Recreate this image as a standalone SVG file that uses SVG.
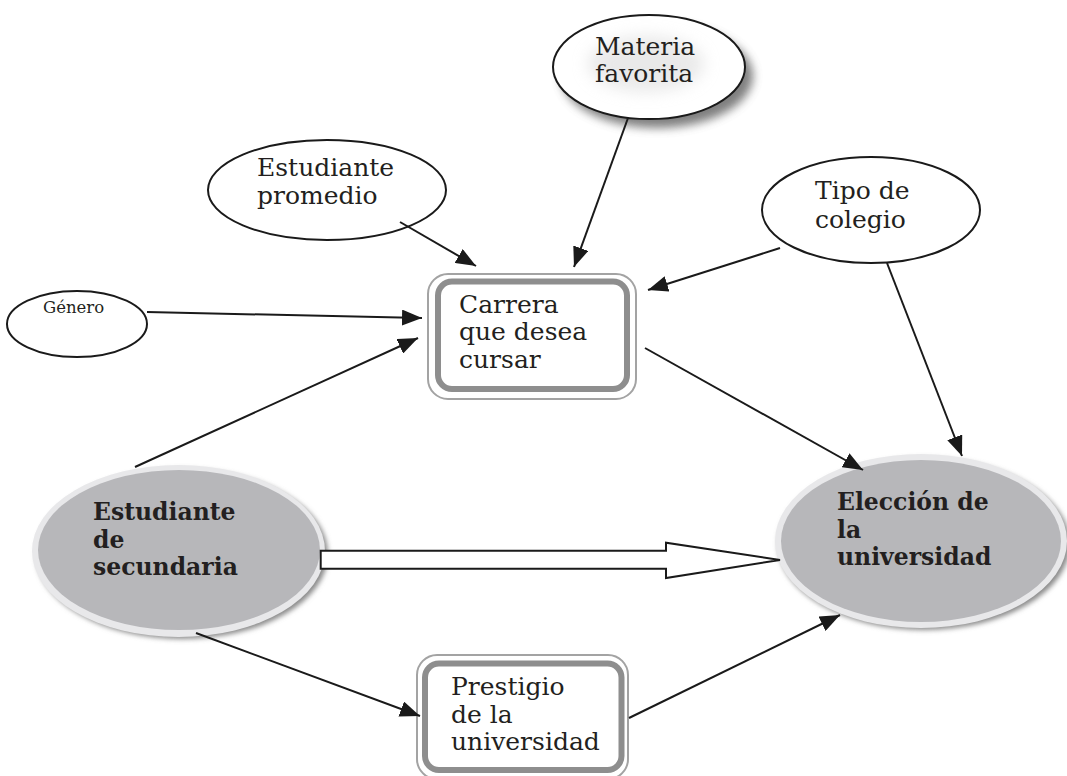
<svg xmlns="http://www.w3.org/2000/svg" width="1067" height="776" viewBox="0 0 1067 776">
<style>
  .t { font-family: "DejaVu Serif", "Liberation Serif", serif; font-size: 25px; fill: #231f20; }
  .tb { font-family: "DejaVu Serif", "Liberation Serif", serif; font-size: 23.5px; font-weight: bold; fill: #231f20; }
  .ell { fill: #ffffff; stroke: #1a1a1a; stroke-width: 2; }
  .conn line { stroke: #1a1a1a; stroke-width: 2; marker-end: url(#ah); }
  .boxOuter { fill: #ffffff; stroke: #a3a3a3; stroke-width: 2; }
  .boxBand { fill: none; stroke: #8e8e8e; stroke-width: 6; }
  .rim { fill: #e8e8ea; }
  .core { fill: #b7b7ba; }
</style>
<defs>
  <marker id="ah" markerUnits="userSpaceOnUse" markerWidth="21" markerHeight="16" refX="20" refY="8" orient="auto">
    <path d="M0,0 L20,8 L0,16 z" fill="#1a1a1a"/>
  </marker>
  <filter id="blur6" x="-30%" y="-30%" width="160%" height="160%">
    <feGaussianBlur stdDeviation="5"/>
  </filter>
  <filter id="blur3" x="-30%" y="-30%" width="160%" height="160%">
    <feGaussianBlur stdDeviation="2.5"/>
  </filter>
  <filter id="blur8" x="-30%" y="-30%" width="160%" height="160%">
    <feGaussianBlur stdDeviation="8"/>
  </filter>
</defs>
<rect width="1067" height="776" fill="#ffffff"/>

<g id="materia-favorita">
  <ellipse cx="657" cy="76" rx="96" ry="52" fill="#555555" opacity="0.75" filter="url(#blur6)"/>
  <ellipse class="ell" cx="649" cy="67" rx="96" ry="52"/>
  <ellipse cx="646" cy="64" rx="58" ry="28" fill="#d4d4d4" opacity="0.5" filter="url(#blur8)"/>
  <text class="t" x="595" y="55">Materia</text>
  <text class="t" x="595" y="82">favorita</text>
</g>

<g id="estudiante-promedio">
  <ellipse class="ell" cx="327" cy="190" rx="119" ry="50"/>
  <text class="t" x="257" y="176">Estudiante</text>
  <text class="t" x="257" y="204">promedio</text>
</g>

<g id="tipo-colegio">
  <ellipse class="ell" cx="871" cy="210" rx="109" ry="53"/>
  <text class="t" x="815" y="199">Tipo de</text>
  <text class="t" x="815" y="228">colegio</text>
</g>

<g id="genero">
  <ellipse class="ell" cx="77" cy="324" rx="70" ry="33"/>
  <text class="t" x="43" y="313" style="font-size:16.5px">Género</text>
</g>

<g id="carrera">
  <rect class="boxOuter" x="428" y="274" width="208" height="125" rx="20"/>
  <rect class="boxBand" x="438" y="281.5" width="189" height="107.5" rx="14"/>
  <text class="t" x="459" y="313">Carrera</text>
  <text class="t" x="459" y="340">que desea</text>
  <text class="t" x="459" y="368">cursar</text>
</g>

<g id="estudiante-secundaria">
  <ellipse cx="182" cy="554" rx="146" ry="85" fill="#8a8a8a" filter="url(#blur3)"/>
  <ellipse class="rim" cx="178.5" cy="551" rx="146.5" ry="86"/>
  <ellipse class="core" cx="179" cy="550" rx="141" ry="80"/>
  <text class="tb" x="93" y="520">Estudiante</text>
  <text class="tb" x="93" y="548">de</text>
  <text class="tb" x="93" y="575">secundaria</text>
</g>

<g id="eleccion-universidad">
  <ellipse cx="924" cy="544" rx="146" ry="86" fill="#8a8a8a" filter="url(#blur3)"/>
  <ellipse class="rim" cx="921" cy="541" rx="146" ry="87"/>
  <ellipse class="core" cx="921" cy="541" rx="140" ry="81"/>
  <text class="tb" x="837" y="510">Elección de</text>
  <text class="tb" x="837" y="538">la</text>
  <text class="tb" x="837" y="565">universidad</text>
</g>

<g id="prestigio">
  <rect class="boxOuter" x="417" y="655" width="211" height="124" rx="20"/>
  <rect class="boxBand" x="425" y="663.5" width="196.5" height="106.5" rx="14"/>
  <text class="t" x="451" y="695">Prestigio</text>
  <text class="t" x="451" y="723">de la</text>
  <text class="t" x="451" y="750">universidad</text>
</g>

<g id="conectores" class="conn">
  <line x1="628" y1="118" x2="574" y2="267"/>
  <line x1="400" y1="222" x2="476" y2="266"/>
  <line x1="780" y1="248" x2="648" y2="290"/>
  <line x1="147" y1="312" x2="422" y2="318"/>
  <line x1="135" y1="467" x2="418" y2="338"/>
  <line x1="645" y1="348" x2="863" y2="470"/>
  <line x1="887" y1="263" x2="962" y2="456"/>
  <line x1="196" y1="633" x2="420" y2="716"/>
  <line x1="629" y1="718" x2="840" y2="615"/>
  <path d="M320.7,550.7 L666,550.7 L666,542.7 L780,560 L666,578 L666,568.7 L320.7,568.7 Z" fill="#ffffff" stroke="#1a1a1a" stroke-width="2"/>
</g>
</svg>
